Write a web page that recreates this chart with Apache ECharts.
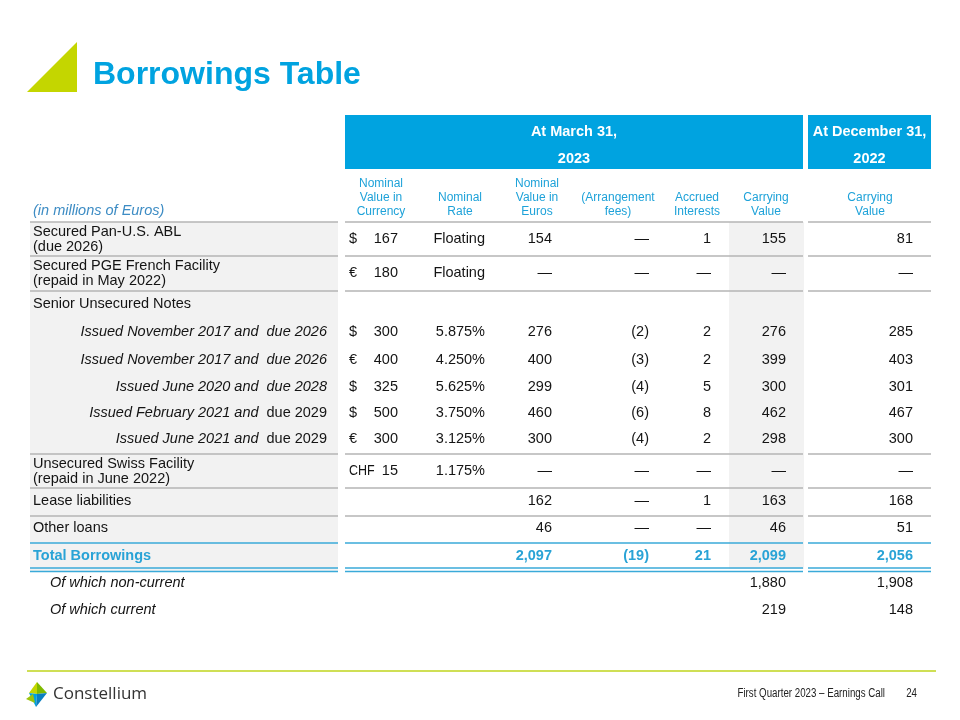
<!DOCTYPE html>
<html>
<head>
<meta charset="utf-8">
<script src="https://cdn.jsdelivr.net/npm/echarts@6/dist/echarts.min.js"></script>
<style>html,body{margin:0;padding:0;background:#fff}#chart{width:960px;height:720px}</style>
</head>
<body>
<div id="chart"></div>
<script>
// ---------- DATA ----------
const rowLabels = [
  'Secured Pan-U.S. ABL\n(due 2026)',
  'Secured PGE French Facility\n(repaid in May 2022)',
  'Senior Unsecured Notes',
  'Issued November 2017 and due 2026',
  'Issued November 2017 and due 2026',
  'Issued June 2020 and due 2028',
  'Issued February 2021 and due 2029',
  'Issued June 2021 and due 2029',
  'Unsecured Swiss Facility\n(repaid in June 2022)',
  'Lease liabilities',
  'Other loans',
  'Total Borrowings',
  'Of which non-current',
  'Of which current'
];
const currencySymbols = ['$', '€', '', '$', '€', '$', '$', '€', 'CHF', '', '', '', '', ''];
const nominalCurrency = [167, 180, null, 300, 400, 325, 500, 300, 15, null, null, null, null, null];
const nominalRates = ['Floating', 'Floating', '', '5.875%', '4.250%', '5.625%', '3.750%', '3.125%', '1.175%', '', '', '', '', ''];
const nominalEuros = [154, 0, null, 276, 400, 299, 460, 300, 0, 162, 46, 2097, null, null];
const arrangementFees = [0, 0, null, -2, -3, -4, -6, -4, 0, 0, 0, -19, null, null];
const accruedInterests = [1, 0, null, 2, 2, 5, 8, 2, 0, 1, 0, 21, null, null];
const carrying2023 = [155, 0, null, 276, 399, 300, 462, 298, 0, 163, 46, 2099, 1880, 219];
const carrying2022 = [81, 0, null, 285, 403, 301, 467, 300, 0, 168, 51, 2056, 1908, 148];
const columnHeaders = ['Nominal\nValue in\nCurrency', 'Nominal\nRate', 'Nominal\nValue in\nEuros', '(Arrangement\nfees)', 'Accrued\nInterests', 'Carrying\nValue', 'Carrying\nValue'];
const periodHeaders = ['At March 31,\n2023', 'At December 31,\n2022'];
const unitNote = '(in millions of Euros)';
const titleText = 'Borrowings Table';
const footerText = 'First Quarter 2023 – Earnings Call';
const pageNumber = '24';
const companyName = 'Constellium';

// ---------- LAYOUT / STYLE ----------
const FONT = "'Liberation Sans', Arial, Helvetica, sans-serif";
const BLUE = '#00a3e0';
const TEXT_BLUE = '#1ea2d9';
const TOTAL_BLUE = '#29a3d6';
const rowKind = ['main','main','main','note','note','note','note2','note2','main','main','main','total','sub','sub'];
const rowY = [239, 273, 304, 332, 360, 387, 413, 439, 471, 501, 528, 556, 583, 610];
const colRight = [398, 485, 552, 649, 711, 786, 913];
const symbolX = 349;
const headerCenters = [381, 460, 537, 618, 697, 766, 870];
const bandX = [[345, 803], [808, 931]];
const segments = [[30, 338], [345, 803], [808, 931]];
const ruleLines = [[222,'g'],[256,'g'],[291,'g'],[454,'g'],[488,'g'],[516,'g'],[543,'b'],[568,'b'],[571.5,'b']];

function fmt(v) {
  if (v === null || v === undefined) return '';
  if (v === 0) return '—';
  const s = Math.abs(v).toLocaleString('en-US');
  return v < 0 ? '(' + s + ')' : s;
}

const chart = echarts.init(document.getElementById('chart'), null, {renderer: 'canvas'});

function txt(p, text, align, extra, scaleX) {
  const el = {
    type: 'text', x: p[0], y: p[1],
    style: Object.assign({
      text: text, align: align, verticalAlign: 'middle',
      fill: '#141414', fontFamily: FONT, fontSize: 14.5
    }, extra || {})
  };
  if (scaleX) el.scaleX = scaleX;
  return el;
}

function renderRow(params, api) {
  const i = api.value(0);
  const y = rowY[i];
  const kind = rowKind[i];
  const children = [];
  const isTotal = kind === 'total';
  const valStyle = isTotal ? {fill: TOTAL_BLUE, fontWeight: 'bold'} : {};
  const label = rowLabels[i];
  if (kind === 'main') {
    children.push(txt(api.coord([33, y]), label, 'left', {lineHeight: 15}));
  } else if (kind === 'total') {
    children.push(txt(api.coord([33, y]), label, 'left', {fill: TOTAL_BLUE, fontWeight: 'bold'}));
  } else if (kind === 'sub') {
    children.push(txt(api.coord([50, y]), label, 'left', {fontStyle: 'italic'}));
  } else {
    const parts = label.split(' due ');
    const second = kind === 'note2' ? 'n' : 'i';
    children.push(txt(api.coord([327, y]), '{i|' + parts[0] + '}{g| }{' + second + '|due ' + parts[1] + '}', 'right', {
      rich: {
        i: {fontStyle: 'italic', fontFamily: FONT, fontSize: 14.5, fill: '#141414'},
        n: {fontStyle: 'normal', fontFamily: FONT, fontSize: 14.5, fill: '#141414'},
        g: {fontFamily: FONT, fontSize: 14.5, width: 8}
      }
    }));
  }
  const sym = currencySymbols[i];
  if (sym) children.push(txt(api.coord([symbolX, y]), sym, 'left', {}, sym.length > 1 ? 0.86 : null));
  if (nominalCurrency[i] !== null) children.push(txt(api.coord([colRight[0], y]), fmt(nominalCurrency[i]), 'right'));
  if (nominalRates[i]) children.push(txt(api.coord([colRight[1], y]), nominalRates[i], 'right'));
  const cols = [nominalEuros, arrangementFees, accruedInterests, carrying2023, carrying2022];
  cols.forEach(function (arr, k) {
    if (arr[i] !== null) children.push(txt(api.coord([colRight[k + 2], y]), fmt(arr[i]), 'right', valStyle));
  });
  return {type: 'group', children: children};
}

function renderFrame(params, api) {
  const children = [];
  let a = api.coord([30, 222]), b = api.coord([338, 572]);
  children.push({type: 'rect', shape: {x: a[0], y: a[1], width: b[0] - a[0], height: b[1] - a[1]}, style: {fill: '#f2f2f2'}});
  a = api.coord([729, 222]); b = api.coord([804, 569]);
  children.push({type: 'rect', shape: {x: a[0], y: a[1], width: b[0] - a[0], height: b[1] - a[1]}, style: {fill: '#f2f2f2'}});
  bandX.forEach(function (bx, k) {
    const p = api.coord([bx[0], 115]), q = api.coord([bx[1], 169]);
    children.push({type: 'rect', shape: {x: p[0], y: p[1], width: q[0] - p[0], height: q[1] - p[1]}, style: {fill: BLUE}});
    const c = api.coord([(bx[0] + bx[1]) / 2, 145.5]);
    children.push(txt(c, periodHeaders[k], 'center', {fill: '#ffffff', fontWeight: 'bold', fontSize: 14.5, lineHeight: 27}));
  });
  columnHeaders.forEach(function (h, k) {
    const p = api.coord([headerCenters[k], 219]);
    children.push({type: 'text', x: p[0], y: p[1], style: {text: h, align: 'center', verticalAlign: 'bottom', fill: TEXT_BLUE, fontFamily: FONT, fontSize: 12, lineHeight: 14}});
  });
  children.push(txt(api.coord([33, 211]), unitNote, 'left', {fontStyle: 'italic', fill: '#3d8cc4'}));
  ruleLines.forEach(function (r) {
    segments.forEach(function (s) {
      const p = api.coord([s[0], r[0]]), q = api.coord([s[1], r[0]]);
      children.push({type: 'line', shape: {x1: p[0], y1: p[1], x2: q[0], y2: q[1]},
        style: {stroke: r[1] === 'g' ? '#b5b5b5' : '#3aaad9', lineWidth: 1.5}});
    });
  });
  return {type: 'group', children: children};
}

const option = {
  animation: false,
  backgroundColor: '#ffffff',
  grid: {left: 0, right: 0, top: 0, bottom: 0},
  xAxis: {type: 'value', min: 0, max: 960, show: false},
  yAxis: {type: 'value', min: 0, max: 720, inverse: true, show: false},
  graphic: [
    {type: 'polygon', shape: {points: [[27, 92], [77, 92], [77, 42]]}, style: {fill: '#c4d600'}},
    {type: 'text', x: 93, y: 75, style: {text: titleText, fill: BLUE, font: "bold 32px 'Liberation Sans', Arial, sans-serif", verticalAlign: 'middle'}},
    {type: 'line', shape: {x1: 27, y1: 671, x2: 936, y2: 671}, style: {stroke: '#cfdf55', lineWidth: 2}},
    {type: 'polygon', shape: {points: [[37, 682], [29, 693], [37, 694]]}, style: {fill: '#c4d600'}},
    {type: 'polygon', shape: {points: [[37, 682], [47, 693], [37, 694]]}, style: {fill: '#7fba00'}},
    {type: 'polygon', shape: {points: [[29, 693], [37, 694], [36, 707]]}, style: {fill: '#00a3e0'}},
    {type: 'polygon', shape: {points: [[47, 693], [37, 694], [36, 707]]}, style: {fill: '#0a7fc0'}},
    {type: 'polygon', shape: {points: [[26, 699], [33, 694], [35, 703]]}, style: {fill: '#9cc40c'}},
    {type: 'text', x: 53, y: 694, style: {text: companyName, fill: '#333333', font: "17px 'Open Sans', 'DejaVu Sans', sans-serif", verticalAlign: 'middle'}},
    {type: 'text', x: 885, y: 694, scaleX: 0.81, style: {text: footerText, fill: '#222222', font: "12px 'Liberation Sans', Arial, sans-serif", align: 'right', verticalAlign: 'middle'}},
    {type: 'text', x: 917, y: 694, scaleX: 0.81, style: {text: pageNumber, fill: '#222222', font: "12px 'Liberation Sans', Arial, sans-serif", align: 'right', verticalAlign: 'middle'}}
  ],
  series: [
    {type: 'custom', name: 'frame', renderItem: renderFrame, data: [[0]], silent: true, z: 1, clip: false},
    {type: 'custom', name: 'rows', renderItem: renderRow, data: rowLabels.map(function (_, i) { return [i]; }), silent: true, z: 3, clip: false}
  ]
};
chart.setOption(option);
</script>
</body>
</html>
